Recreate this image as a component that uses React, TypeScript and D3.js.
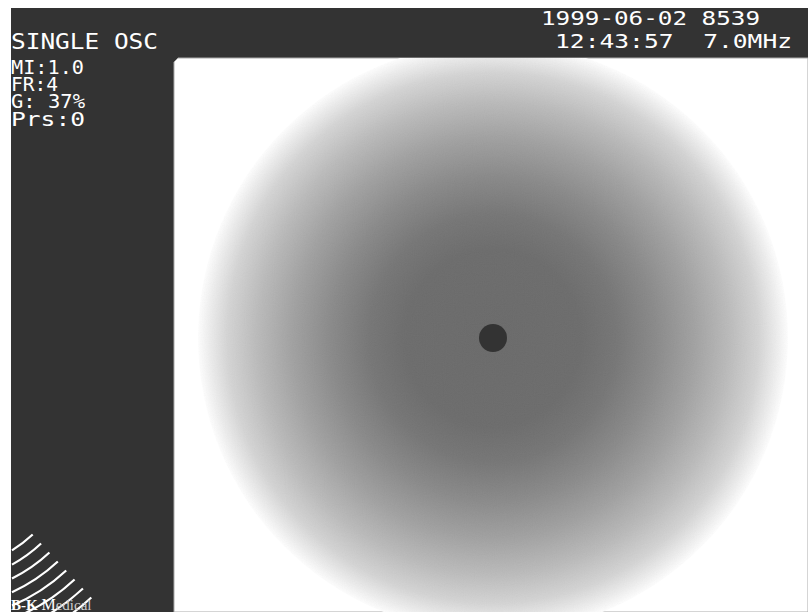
import React from "react";
import * as d3 from "d3";

const W = 808;
const H = 612;

// header texts
const topRight = ["1999-06-02 8539", "12:43:57  7.0MHz"];
const leftLines = ["SINGLE OSC", "MI:1.0", "FR:4", "G: 37%", "Prs:0"];
const leftBaselines = [49, 74, 91, 108, 126];
const leftWidths = [147, 73, 47, 74, 74];
const leftSizes = [21, 19, 19, 19, 19];
// radial intensity profile: [relative radius, grey level]
const profileR = [0, 0.3, 0.42, 0.55, 0.68, 0.8, 0.9, 0.96, 1];
const profileG = [104, 106, 116, 136, 160, 186, 212, 237, 255];
// logo arcs (count)
const arcIdx = [0, 1, 2, 3, 4, 5, 6, 7];

export default function App() {
  const cx = 493, cy = 338, R = 295;
  const panelX = 11, panelY = 8, panelRight = 174, barBottom = 58;
  const rScale = d3.scaleLinear().domain([0, 7]).range([136, 222]);
  const logoC = [-60, 435];
  const ang = Math.atan2(0.73, 0.68);
  const arcs = arcIdx.map((i) => {
    const r = rScale(i);
    const a1 = ang;
    const a0 = Math.acos((panelX + 1 - logoC[0]) / r);
    const p0 = [logoC[0] + r * Math.cos(a0), logoC[1] + r * Math.sin(a0)];
    const p1 = [logoC[0] + r * Math.cos(a1), logoC[1] + r * Math.sin(a1)];
    return `M${p0[0]},${p0[1]} A${r},${r} 0 0 0 ${p1[0]},${p1[1]}`;
  });
  const whitePath = `M${panelRight},${barBottom + 4} L${panelRight + 4},${barBottom} L${W},${barBottom} L${W},${H} L${panelRight},${H} Z`;
  return (
    <svg width={W} height={H} style={{ position: "absolute", left: 0, top: 0, background: "#fff" }}>
      <defs>
        <radialGradient id="rg" cx={cx} cy={cy} r={R} gradientUnits="userSpaceOnUse">
          {profileR.map((o, i) => (
            <stop key={i} offset={o} stopColor={d3.rgb(profileG[i], profileG[i], profileG[i]).formatHex()} />
          ))}
        </radialGradient>
        <clipPath id="wclip"><path d={whitePath} /></clipPath>
        <clipPath id="cclip"><circle cx={cx} cy={cy} r={R} /></clipPath>
        <filter id="noise" x="0" y="0" width="100%" height="100%">
          <feTurbulence type="fractalNoise" baseFrequency="0.9" numOctaves="1" seed="3" />
          <feColorMatrix type="saturate" values="0" />
          <feComponentTransfer>
            <feFuncA type="linear" slope="0" intercept="0.05" />
          </feComponentTransfer>
        </filter>
      </defs>
      <rect x={panelX} y={panelY} width={W - panelX} height={H - panelY} fill="#333" />
      <path d={whitePath} fill="#fff" stroke="#aaa" strokeWidth={1} />
      <g clipPath="url(#wclip)">
        <circle cx={cx} cy={cy} r={R} fill="url(#rg)" />
        <g clipPath="url(#cclip)">
          <rect x={cx - R} y={cy - R} width={2 * R} height={2 * R} filter="url(#noise)" />
        </g>
      </g>
      <circle cx={cx} cy={cy} r={14} fill="#333" />
      <g fill="#fff" fontFamily="DejaVu Sans Mono, monospace">
        <text x={541} y={25} fontSize={20} textLength={219} lengthAdjust="spacingAndGlyphs">{topRight[0]}</text>
        <text x={555} y={48} fontSize={20} textLength={237} lengthAdjust="spacingAndGlyphs" xmlSpace="preserve">{topRight[1]}</text>
        {leftLines.map((t, i) => (
          <text key={i} x={11} y={leftBaselines[i]} fontSize={leftSizes[i]} textLength={leftWidths[i]} lengthAdjust="spacingAndGlyphs" xmlSpace="preserve">{t}</text>
        ))}
      </g>
      <g fill="none" stroke="#fff" strokeWidth={2.2}>
        {arcs.map((d, i) => <path key={i} d={d} />)}
      </g>
      <text x={11} y={610} fill="#fff" fontFamily="Liberation Serif, serif" fontSize={15}>
        <tspan fontWeight="bold">B-K </tspan>
        <tspan fontSize={16}>M</tspan>
        <tspan fontSize={15} fill="#ccc">edical</tspan>
      </text>
    </svg>
  );
}
